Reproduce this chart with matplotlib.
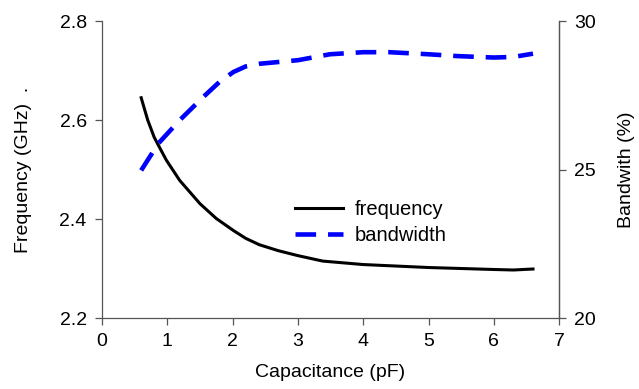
import numpy as np
import matplotlib
matplotlib.use("Agg")
from matplotlib import pyplot as plt

plt.rcParams['font.family'] = ['Liberation Sans', 'DejaVu Sans']

# values
cap_freq = [0.60, 0.70, 0.80, 0.90, 0.985, 1.19, 1.50, 1.75, 2.01, 2.20, 2.41, 2.70, 3.0, 3.38, 4.0, 5.0, 6.0, 6.3, 6.6]
frequency = [2.645, 2.600, 2.565, 2.540, 2.519, 2.478, 2.431, 2.401, 2.377, 2.361, 2.348, 2.336, 2.326, 2.315, 2.308, 2.302, 2.298, 2.297, 2.299]

cap_bw = [0.60, 0.86, 1.19, 1.55, 1.80, 2.01, 2.20, 2.41, 3.0, 3.49, 4.0, 4.4, 5.0, 5.43, 6.0, 6.3, 6.6]
bandwidth = [24.97, 25.87, 26.66, 27.44, 27.95, 28.28, 28.47, 28.56, 28.68, 28.88, 28.95, 28.95, 28.88, 28.82, 28.77, 28.79, 28.90]

xticks = [0, 1, 2, 3, 4, 5, 6, 7]
freq_ticks = [2.2, 2.4, 2.6, 2.8]
bw_ticks = [20, 25, 30]

fig = plt.figure(figsize=(6.39, 3.89), dpi=100)
ax = fig.add_axes([0.1596, 0.1825, 0.7154, 0.7635])
ax2 = ax.twinx()

l1, = ax.plot(cap_freq, frequency, color='black', lw=2.2, label='frequency')
l2, = ax2.plot(cap_bw, bandwidth, color='#0000ff', lw=3.3, ls=(0, (4.5, 2.6)), label='bandwidth')

ax.set_xlim(0, 7)
ax.set_ylim(2.2, 2.8)
ax2.set_ylim(20, 30)
ax.set_xticks(xticks)
ax.set_yticks(freq_ticks)
ax.set_yticklabels(['%.1f' % v for v in freq_ticks])
ax2.set_yticks(bw_ticks)

for a in (ax, ax2):
    a.spines['top'].set_visible(False)
    for s in a.spines.values():
        s.set_color('#555555')
        s.set_linewidth(0.9)
    a.tick_params(direction='out', length=5, width=0.9, color='#555555', labelsize=14, pad=6)
ax2.spines['left'].set_visible(False)
ax2.spines['bottom'].set_visible(False)

ax.set_xlabel('Capacitance (pF)', fontsize=14, labelpad=10)
ax.set_ylabel('Frequency (GHz)  .', fontsize=14, labelpad=20)
ax2.set_ylabel('Bandwith (%)', fontsize=14, labelpad=16)

leg = ax.legend([l1, l2], ['frequency', 'bandwidth'], loc='upper left',
                bbox_to_anchor=(0.383, 0.458), frameon=False, fontsize=14.5,
                handlelength=2.35, handletextpad=0.6, labelspacing=0.35)

fig.savefig('out.png', dpi=100)
